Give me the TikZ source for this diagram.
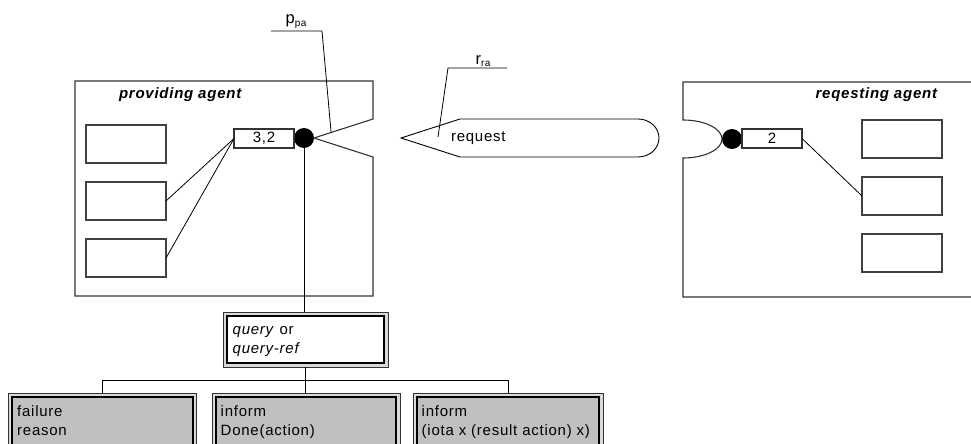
\documentclass[tikz,border=0pt]{standalone}
\usepackage{fontspec}
\setmainfont{Liberation Sans}[LetterSpace=5]
\usetikzlibrary{calc,backgrounds}
\definecolor{replygray}{HTML}{C0C0C0}
% lowered small index text
\newcommand\lowidx[2]{\raisebox{-#1}{\fontsize{10}{10}\selectfont #2}}
% top-aligned message text of fixed width and height
\newcommand\msgtext[3]{\parbox[t][#2pt][t]{#1pt}{\strut #3}}

\begin{document}
\begin{tikzpicture}[x=1pt,y=-1pt,
  every node/.style={font=\fontsize{15}{19}\selectfont, inner sep=0pt, outer sep=0pt},
  agentline/.style={draw=black!80, line width=1.1pt},
  title/.style={font=\fontsize{15}{19}\selectfont\bfseries\itshape},
  label/.style={font=\fontsize{16.5}{19}\selectfont, anchor=south},
  slot/.style={draw=black!75, fill=white, line width=1.3pt, minimum width=80pt, minimum height=38pt},
  port/.style={draw=black!80, fill=white, line width=1.1pt, minimum width=60pt, minimum height=19pt},
  plug/.style={circle, fill=black, minimum size=20pt},
  wire/.style={draw=black, line width=0.8pt},
  msgbox/.style={draw=black, line width=2.3pt, anchor=north west, inner xsep=5pt},
  frame/.style={draw=black!80, line width=1pt, fill=black!15},
]
\clip (0,0) rectangle (971,444);

% ---------- providing agent ----------
\node[plug] (ball1) at (304,138) {};
\node[port] (port1) at (264,138.5) {3,2};
\coordinate (pnotchT) at (373,119);
\coordinate (pnotchB) at (373,157);
\draw[agentline] (ball1.east) -- (pnotchT) -- (373,81) -- (75,81) -- (75,296)
  -- (373,296) -- (pnotchB) -- cycle;
\node[title, anchor=west] (ptitle) at (119,95) {providing agent};
\node[slot] (pslot1) at (126,144) {};
\node[slot] (pslot2) at (126,201) {};
\node[slot] (pslot3) at (126,258) {};
\draw[wire] (port1.west) -- (pslot2.east);
\draw[wire] (port1.west) -- (pslot3.east);

% p_pa label with its leader
\coordinate (ppaL) at (271,31);
\coordinate (ppaR) at (322,31);
\draw[wire] (ppaL) -- (ppaR) -- ($(ball1.east)!0.29!(pnotchT)$);
\node[label] (ppa) at (296,29) {p\lowidx{3pt}{pa}};

% ---------- request message ----------
\draw[wire, line width=0.9pt] (401,138) -- (460,119) -- (638,119)
  arc[start angle=90, end angle=-90, x radius=21pt, y radius=19pt]
  -- (460,157) -- cycle;
\node[anchor=west] (reqtext) at (451,138) {request};
\coordinate (rraL) at (448,68);
\coordinate (rraR) at (507,68);
\coordinate (rraFoot) at (438,137);
\draw[wire] (rraFoot) -- (rraL) -- (rraR);
\node[label] (rra) at (483,67) {r\lowidx{2pt}{ra}};

% ---------- requesting agent ----------
\node[plug] (ball2) at (732,139) {};
\node[port] (port2) at (772,138.5) {2};
\draw[agentline] (980,82) -- (683,82) -- (683,120)
  arc[start angle=90, end angle=-90, x radius=39pt, y radius=19pt]
  -- (683,297) -- (980,297);
\node[title, anchor=east] (rtitle) at (937,95) {reqesting agent};
\node[slot] (rslot1) at (902,139) {};
\node[slot] (rslot2) at (902,196) {};
\node[slot] (rslot3) at (902,253) {};
\draw[wire] (port2.east) -- (rslot2.west);

% ---------- messages ----------
\node[msgbox, fill=white, inner xsep=6pt, inner ysep=5pt] (query) at (226.7,315.7)
  {\msgtext{145.6}{37.6}{\textit{query} or\\\textit{query-ref}}};
\node[msgbox, fill=replygray, inner ysep=6.2pt] (fail) at (12.2,397.2)
  {\msgtext{170.6}{60}{failure\\reason}};
\node[msgbox, fill=replygray, inner ysep=6.2pt] (done) at (215.7,397.2)
  {\msgtext{170.6}{60}{inform\\Done(action)}};
\node[msgbox, fill=replygray, inner ysep=6.2pt] (iota) at (416.7,397.2)
  {\msgtext{172.6}{60}{inform\\(iota x (result action) x)}};

\begin{scope}[on background layer]
  \fill[white] (0,0) rectangle (971,444);
  \foreach \m in {query,fail,done,iota}
    \draw[frame] ([shift={(-3.7pt,3.7pt)}]\m.north west)
      rectangle ([shift={(3.7pt,-3.7pt)}]\m.south east);
\end{scope}

% ---------- connectors ----------
\coordinate (qtop) at ([yshift=3.7pt]query.north);
\coordinate (qbot) at ([yshift=-3.7pt]query.south);
\coordinate (ftop) at ([yshift=3.7pt]fail.north);
\coordinate (dtop) at ([yshift=3.7pt]done.north);
\coordinate (itop) at ([yshift=3.7pt]iota.north);
\coordinate (bus) at (305,380);
\draw[wire] (ball1.south) -- (ball1.south |- qtop);
\draw[wire] (qbot) -- (qbot |- dtop);
\draw[wire] (ftop) -- (ftop |- bus) -- (itop |- bus) -- (itop);
\end{tikzpicture}
\end{document}
